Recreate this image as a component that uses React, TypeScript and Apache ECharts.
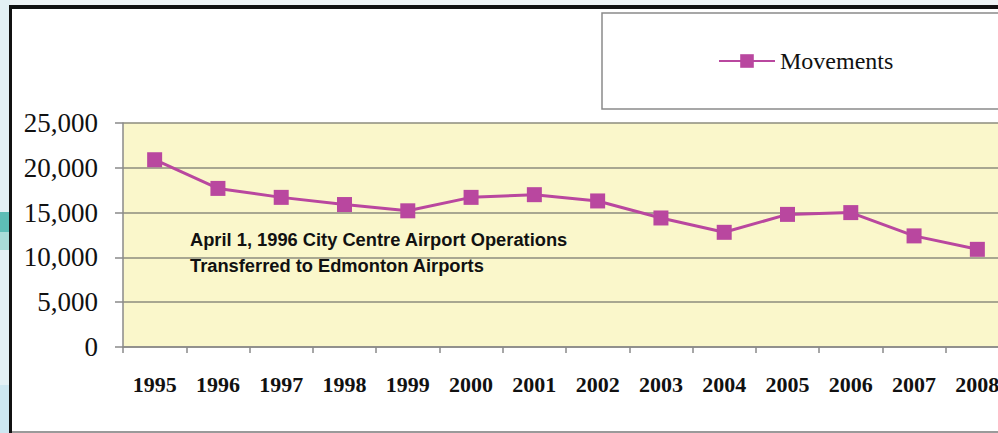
import React, { useEffect, useRef } from "react";
import * as echarts from "echarts";

const years = ["1995", "1996", "1997", "1998", "1999", "2000", "2001", "2002", "2003", "2004", "2005", "2006", "2007", "2008"];
const movements = [20900, 17700, 16700, 15900, 15200, 16700, 17000, 16300, 14400, 12800, 14800, 15000, 12400, 10900];
const seriesName = "Movements";
const noteLines = ["April 1, 1996 City Centre Airport Operations", "Transferred to Edmonton Airports"];

const LINE_COLOR = "#B9479F";

export default function App() {
  const ref = useRef<HTMLDivElement>(null);
  useEffect(() => {
    if (!ref.current) return;
    const chart = echarts.init(ref.current, null, { renderer: "svg" });
    chart.setOption({
      animation: false,
      backgroundColor: "#ffffff",
      graphic: [
        { type: "rect", z: -10, shape: { x: 0, y: 0, width: 1010, height: 6 }, style: { fill: "#EEF3F5" } },
        { type: "rect", z: -10, shape: { x: 0, y: 0, width: 10, height: 433 }, style: { fill: "#E3F0F5" } },
        { type: "rect", z: -9, shape: { x: 0, y: 212, width: 10, height: 20 }, style: { fill: "#5DBDB6" } },
        { type: "rect", z: -9, shape: { x: 0, y: 232, width: 10, height: 18 }, style: { fill: "#A9DCD8" } },
        { type: "rect", z: -9, shape: { x: 0, y: 385, width: 10, height: 48 }, style: { fill: "#CDE7F1" } },
        { type: "rect", z: -8, shape: { x: 9, y: 5, width: 1001, height: 4 }, style: { fill: "#111111" } },
        { type: "rect", z: -8, shape: { x: 9, y: 5, width: 3, height: 428 }, style: { fill: "#111111" } },
        { type: "rect", z: -8, shape: { x: 12, y: 431, width: 998, height: 2 }, style: { fill: "#9A9A9A" } },
        { type: "rect", z: -5, shape: { x: 602, y: 13, width: 410, height: 96 }, style: { fill: "#ffffff", stroke: "#8A8A8A", lineWidth: 1.5 } },
        {
          type: "text", z: 10, x: 190, y: 239,
          style: { text: noteLines[0], font: "bold 18.3px 'Liberation Sans', Arial, sans-serif", fill: "#111111", verticalAlign: "middle" },
        },
        {
          type: "text", z: 10, x: 190, y: 265,
          style: { text: noteLines[1], font: "bold 18.3px 'Liberation Sans', Arial, sans-serif", fill: "#111111", verticalAlign: "middle" },
        },
      ],
      legend: {
        left: 713,
        top: 44,
        itemWidth: 56,
        itemHeight: 17,
        itemGap: 6,
        textStyle: { fontFamily: "'Liberation Serif', 'Times New Roman', serif", fontSize: 24, color: "#111111" },
        data: [seriesName],
      },
      grid: { left: 123, top: 123, bottom: 86, right: 1, show: true, backgroundColor: "#FAF7CB", borderWidth: 0 },
      xAxis: {
        type: "category",
        data: years,
        boundaryGap: true,
        axisLine: { lineStyle: { color: "#8A8A8A", width: 1.5 } },
        axisTick: { show: true, length: 6, lineStyle: { color: "#8A8A8A", width: 1.5 } },
        axisLabel: {
          margin: 26,
          interval: 0,
          fontFamily: "'Liberation Serif', 'Times New Roman', serif",
          fontWeight: "bold",
          fontSize: 22,
          color: "#111111",
        },
        splitLine: { show: false },
      },
      yAxis: {
        type: "value",
        min: 0,
        max: 25000,
        interval: 5000,
        axisLine: { show: true, lineStyle: { color: "#8A8A8A", width: 1.5 } },
        axisTick: { show: true, length: 8, lineStyle: { color: "#8A8A8A", width: 1.5 } },
        axisLabel: {
          margin: 25,
          fontFamily: "'Liberation Serif', 'Times New Roman', serif",
          fontSize: 27,
          color: "#111111",
          formatter: (v: number) => v.toLocaleString("en-US"),
        },
        splitLine: { show: true, lineStyle: { color: "#8C8C7E", width: 1.5 } },
      },
      series: [
        {
          name: seriesName,
          type: "line",
          data: movements,
          symbol: "rect",
          symbolSize: 15,
          lineStyle: { color: LINE_COLOR, width: 3 },
          itemStyle: { color: LINE_COLOR },
        },
      ],
    });
    return () => chart.dispose();
  }, []);
  return (
    <div style={{ position: "absolute", left: 0, top: 0, width: 998, height: 433, overflow: "hidden" }}>
      <div ref={ref} style={{ width: 1010, height: 433 }} />
    </div>
  );
}
